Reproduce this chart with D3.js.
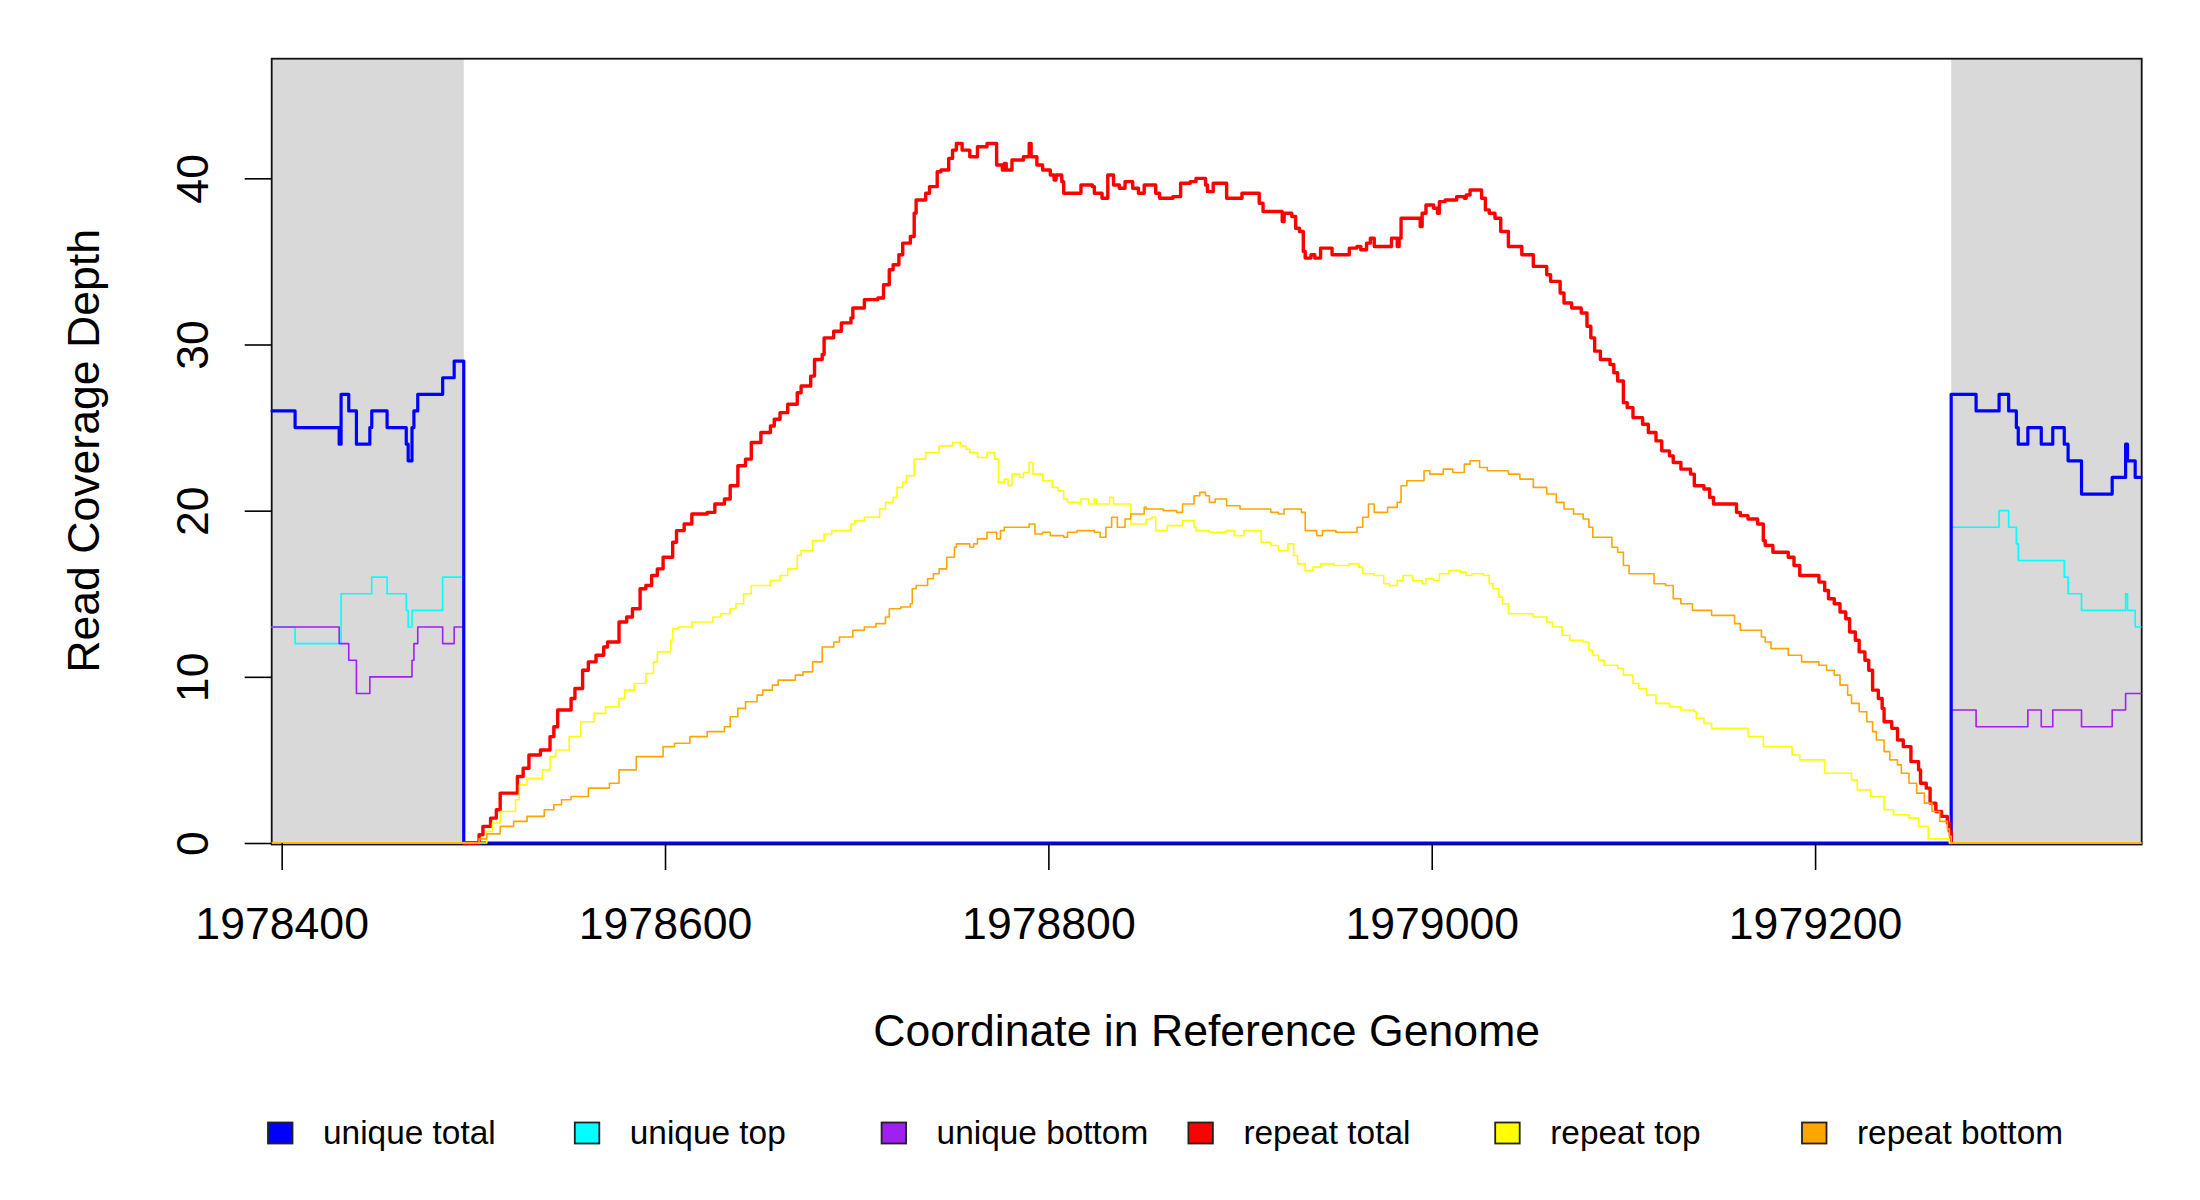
<!DOCTYPE html>
<html><head><meta charset="utf-8">
<script src="https://cdn.jsdelivr.net/npm/d3@7"></script>
<style>body{margin:0;background:#fff} svg{display:block}</style>
</head><body><svg id="chart" width="2200" height="1200"></svg>
<script>
// ---------- data ----------
const xDomain = [1978394.8, 1979370.4];
const yDomain = [0, 47.2];
const xTicks = [1978400, 1978600, 1978800, 1979000, 1979200];
const yTicks = [0, 10, 20, 30, 40];
const maskedRegions = [[1978394.8, 1978495], [1979271, 1979370.4]];
const legendLabels = ["unique total", "unique top", "unique bottom", "repeat total", "repeat top", "repeat bottom"];
const seriesColors = ["#0000ff", "#00ffff", "#a020f0", "#ff0000", "#ffff00", "#ffa500"];

const uniqueTotal = [[1978395,26],[1978407,25],[1978430,24],[1978431,27],[1978435,26],[1978439,24],[1978446,25],[1978447,26],[1978455,25],[1978465,24],[1978466,23],[1978468,25],[1978469,26],[1978471,27],[1978484,28],[1978490,29],[1978495,0],
[1979271,27],[1979284,26],[1979296,27],[1979301,26],[1979305,25],[1979306,24],[1979311,25],[1979318,24],[1979324,25],[1979330,24],[1979332,23],[1979339,21],[1979355,22],[1979362,24],[1979363,23],[1979367,22],[1979370,22]];

const uniqueTop = [[1978395,13],[1978407,12],[1978431,15],[1978447,16],[1978455,15],[1978465,14],[1978466,13],[1978468,14],[1978484,16],[1978495,0],
[1979271,19],[1979296,20],[1979301,19],[1979305,18],[1979306,17],[1979330,16],[1979332,15],[1979339,14],[1979362,15],[1979363,14],[1979367,13],[1979370,13]];

const uniqueBottom = [[1978395,13],[1978430,12],[1978435,11],[1978439,9],[1978446,10],[1978468,11],[1978469,12],[1978471,13],[1978484,12],[1978490,13],[1978495,0],
[1979271,8],[1979284,7],[1979311,8],[1979318,7],[1979324,8],[1979339,7],[1979355,8],[1979362,9],[1979370,9]];

const repeatTotal = [[1978495,0],[1978503,0.5],[1978505,1.0],[1978509,1.5],[1978512,2.0],[1978514,3.0],[1978523,4.0],[1978526,4.5],[1978529,5.3],[1978535,5.6],[1978540,6.4],[1978542,7.0],[1978544,8.0],[1978551,8.7],[1978553,9.3],[1978557,10.4],[1978560,10.9],[1978564,11.3],[1978568,11.8],[1978570,12.1],[1978576,13.3],[1978580,13.6],[1978583,14.1],[1978587,15.3],[1978590,15.5],[1978593,16.1],[1978596,16.5],[1978599,17.2],[1978604,18.1],[1978606,18.8],[1978610,19.2],[1978614,19.8],[1978622,19.9],[1978626,20.4],[1978631,20.7],[1978634,21.5],[1978638,22.7],[1978642,23.1],[1978645,24.1],[1978650,24.7],[1978655,25.1],[1978657,25.5],[1978660,25.9],[1978664,26.4],[1978669,27.1],[1978671,27.5],[1978676,28.1],[1978678,29.1],[1978682,29.4],[1978683,30.4],[1978688,30.8],[1978692,31.3],[1978697,31.6],[1978698,32.2],[1978704,32.7],[1978711,32.8],[1978714,33.6],[1978717,34.5],[1978719,34.8],[1978722,35.4],[1978724,36.1],[1978728,36.5],[1978730,37.9],[1978731,38.7],[1978736,39.1],[1978738,39.5],[1978742,40.4],[1978744,40.5],[1978748,41.2],[1978750,41.7],[1978752,42.1],[1978755,41.7],[1978759,41.3],[1978763,41.9],[1978768,42.1],[1978773,40.8],[1978776,40.5],[1978777,40.9],[1978778,40.5],[1978781,41.1],[1978787,41.3],[1978790,42.1],[1978791,41.3],[1978794,40.8],[1978797,40.5],[1978801,40.2],[1978803,39.9],[1978804,40.2],[1978807,39.8],[1978808,39.1],[1978817,39.6],[1978823,39.5],[1978824,39.1],[1978828,38.8],[1978831,40.2],[1978834,39.6],[1978837,39.4],[1978840,39.8],[1978844,39.4],[1978847,39.1],[1978850,39.6],[1978856,39.1],[1978858,38.8],[1978865,38.9],[1978869,39.7],[1978874,39.8],[1978877,40.0],[1978882,39.6],[1978883,39.2],[1978886,39.7],[1978893,38.8],[1978901,39.1],[1978910,38.5],[1978912,38.0],[1978922,37.4],[1978923,37.9],[1978927,37.7],[1978929,37.0],[1978931,36.8],[1978933,35.6],[1978934,35.2],[1978937,35.4],[1978939,35.2],[1978942,35.8],[1978948,35.4],[1978957,35.8],[1978961,35.9],[1978963,35.7],[1978966,36.1],[1978968,36.4],[1978970,35.9],[1978979,36.4],[1978982,35.9],[1978983,36.4],[1978984,37.6],[1978994,37.1],[1978995,37.9],[1978997,38.4],[1979001,38.2],[1979003,37.9],[1979004,38.6],[1979007,38.7],[1979013,38.9],[1979017,38.8],[1979018,39.0],[1979020,39.3],[1979026,38.8],[1979028,38.1],[1979030,37.9],[1979033,37.6],[1979036,36.8],[1979040,35.9],[1979047,35.4],[1979053,34.7],[1979060,34.2],[1979062,33.8],[1979067,33.1],[1979069,32.5],[1979073,32.2],[1979078,31.9],[1979081,31.1],[1979083,30.4],[1979085,29.6],[1979088,29.1],[1979093,28.8],[1979095,28.3],[1979097,27.8],[1979100,26.5],[1979102,26.2],[1979105,25.6],[1979110,25.2],[1979113,24.7],[1979117,24.2],[1979120,23.6],[1979124,23.3],[1979126,22.9],[1979130,22.5],[1979135,22.2],[1979137,21.5],[1979142,21.3],[1979145,20.8],[1979147,20.4],[1979159,19.9],[1979161,19.7],[1979165,19.5],[1979170,19.2],[1979173,18.2],[1979174,17.9],[1979178,17.5],[1979186,17.2],[1979189,16.7],[1979192,16.1],[1979202,15.7],[1979205,15.2],[1979207,14.7],[1979210,14.4],[1979213,13.9],[1979216,13.5],[1979218,12.7],[1979221,12.2],[1979223,11.5],[1979226,11.0],[1979228,10.4],[1979230,9.2],[1979233,8.7],[1979235,8.1],[1979236,7.3],[1979240,6.9],[1979243,6.2],[1979246,5.8],[1979250,4.9],[1979254,4.4],[1979255,3.6],[1979258,3.3],[1979260,2.4],[1979263,1.9],[1979266,1.6],[1979269,1.2],[1979270,0.7],[1979271,0]];

const repeatTop = [[1978395,0],[1978507,0.7],[1978510,1.2],[1978514,1.9],[1978522,2.6],[1978524,3.5],[1978528,3.9],[1978536,4.4],[1978540,5.2],[1978543,5.6],[1978550,6.4],[1978556,7.3],[1978563,7.8],[1978569,8.2],[1978576,8.7],[1978579,9.2],[1978584,9.6],[1978590,10.2],[1978594,10.9],[1978596,11.5],[1978603,12.2],[1978604,12.9],[1978607,13.0],[1978614,13.3],[1978625,13.6],[1978629,13.8],[1978634,14.1],[1978637,14.4],[1978641,15.0],[1978645,15.5],[1978655,15.8],[1978660,16.1],[1978664,16.5],[1978669,17.3],[1978671,17.6],[1978677,18.2],[1978683,18.6],[1978687,18.8],[1978697,19.2],[1978699,19.4],[1978704,19.6],[1978712,20.1],[1978715,20.5],[1978719,20.8],[1978721,21.4],[1978724,21.7],[1978726,22.1],[1978730,23.1],[1978736,23.5],[1978743,23.9],[1978750,24.1],[1978754,23.9],[1978757,23.7],[1978759,23.5],[1978763,23.2],[1978768,23.5],[1978772,23.1],[1978774,21.7],[1978777,21.9],[1978779,21.5],[1978781,22.2],[1978785,22.0],[1978787,22.3],[1978790,22.9],[1978792,22.2],[1978797,21.8],[1978802,21.4],[1978805,21.2],[1978808,20.7],[1978810,20.5],[1978816,20.4],[1978817,20.7],[1978821,20.4],[1978824,20.7],[1978825,20.4],[1978832,20.8],[1978834,20.4],[1978843,19.2],[1978851,19.5],[1978854,19.6],[1978856,18.8],[1978862,19.1],[1978870,19.4],[1978876,19.0],[1978877,18.8],[1978884,18.7],[1978893,18.8],[1978897,18.5],[1978902,18.8],[1978911,18.1],[1978916,17.9],[1978920,17.6],[1978925,18.0],[1978928,17.3],[1978930,16.8],[1978934,16.4],[1978938,16.6],[1978942,16.8],[1978949,16.7],[1978957,16.8],[1978962,16.6],[1978964,16.2],[1978970,16.1],[1978975,15.6],[1978978,15.5],[1978982,15.8],[1978985,16.1],[1978990,15.8],[1978995,15.6],[1978997,15.9],[1979001,15.8],[1979004,16.2],[1979009,16.4],[1979015,16.3],[1979018,16.1],[1979021,16.2],[1979027,16.1],[1979030,15.6],[1979032,15.3],[1979035,14.8],[1979037,14.4],[1979040,13.8],[1979053,13.6],[1979060,13.3],[1979063,13.0],[1979068,12.5],[1979072,12.2],[1979079,12.1],[1979082,11.6],[1979084,11.3],[1979087,11.0],[1979090,10.7],[1979097,10.5],[1979100,10.1],[1979105,9.6],[1979108,9.3],[1979112,8.9],[1979117,8.4],[1979124,8.2],[1979130,8.0],[1979137,7.9],[1979138,7.5],[1979142,7.2],[1979146,6.9],[1979165,6.4],[1979173,5.8],[1979188,5.3],[1979192,5.0],[1979205,4.2],[1979219,3.8],[1979222,3.2],[1979229,2.8],[1979236,2.0],[1979241,1.7],[1979249,1.5],[1979254,1.0],[1979259,0.25],[1979270,0],[1979370,0]];

const repeatBottom = [[1978395,0],[1978503,0.25],[1978507,0.55],[1978514,1.0],[1978521,1.3],[1978528,1.6],[1978537,2.0],[1978542,2.3],[1978546,2.6],[1978551,2.8],[1978560,3.3],[1978571,3.6],[1978576,4.4],[1978585,5.2],[1978599,5.8],[1978605,6.0],[1978613,6.4],[1978622,6.7],[1978631,7.0],[1978634,7.6],[1978638,8.1],[1978642,8.5],[1978648,8.9],[1978651,9.2],[1978656,9.5],[1978659,9.8],[1978668,10.1],[1978672,10.3],[1978677,10.9],[1978682,11.8],[1978688,12.1],[1978691,12.4],[1978698,12.8],[1978704,13.0],[1978710,13.2],[1978715,13.6],[1978717,14.1],[1978723,14.2],[1978728,14.4],[1978729,15.3],[1978731,15.5],[1978737,15.9],[1978740,16.2],[1978743,16.5],[1978747,17.2],[1978751,17.8],[1978752,18.0],[1978759,17.8],[1978761,18.0],[1978763,18.3],[1978768,18.7],[1978773,18.3],[1978775,18.8],[1978777,19.0],[1978790,19.2],[1978793,18.6],[1978797,18.7],[1978801,18.5],[1978808,18.4],[1978810,18.7],[1978815,18.8],[1978824,18.7],[1978827,18.4],[1978830,19.0],[1978833,19.6],[1978836,19.0],[1978840,19.5],[1978843,19.8],[1978850,20.2],[1978851,20.1],[1978860,20.0],[1978867,19.9],[1978870,20.4],[1978876,20.9],[1978879,21.1],[1978882,20.9],[1978884,20.5],[1978887,20.7],[1978893,20.3],[1978900,20.1],[1978916,19.9],[1978920,19.8],[1978923,20.1],[1978932,19.9],[1978934,18.8],[1978940,18.5],[1978943,18.8],[1978950,18.7],[1978961,19.0],[1978964,19.6],[1978967,20.4],[1978970,19.9],[1978977,20.2],[1978982,20.5],[1978984,21.5],[1978987,21.8],[1978996,22.4],[1978999,22.2],[1979006,22.5],[1979011,22.3],[1979017,22.8],[1979020,23.0],[1979025,22.6],[1979029,22.4],[1979040,22.2],[1979046,21.9],[1979053,21.4],[1979060,21.0],[1979065,20.5],[1979069,20.1],[1979074,19.8],[1979079,19.5],[1979082,19.0],[1979084,18.4],[1979094,17.8],[1979097,17.5],[1979100,16.7],[1979103,16.2],[1979116,15.6],[1979122,15.5],[1979126,14.7],[1979130,14.4],[1979136,14.0],[1979146,13.7],[1979158,13.2],[1979161,12.8],[1979172,12.4],[1979174,12.1],[1979177,11.7],[1979186,11.3],[1979193,10.9],[1979202,10.7],[1979206,10.4],[1979210,10.1],[1979213,9.5],[1979217,8.9],[1979219,8.4],[1979223,7.9],[1979227,7.3],[1979230,6.7],[1979232,6.2],[1979236,5.5],[1979239,5.0],[1979243,4.7],[1979245,4.2],[1979249,3.6],[1979253,3.0],[1979257,2.4],[1979261,1.9],[1979265,1.3],[1979269,0.86],[1979270,0.4],[1979271,0],[1979370,0]];

// ---------- drawing ----------
const FONT = "'Liberation Sans', Arial, Helvetica, sans-serif";
const svg = d3.select("#chart");
const x = d3.scaleLinear().domain(xDomain).range([271.7, 2141.7]);
const y = d3.scaleLinear().domain(yDomain).range([843, 58.7]);

svg.append("rect").attr("width", 2200).attr("height", 1200).attr("fill", "#fff");

// masked (gray) regions
svg.selectAll("rect.mask").data(maskedRegions).join("rect")
  .attr("class", "mask")
  .attr("x", d => x(d[0])).attr("width", d => x(d[1]) - x(d[0]))
  .attr("y", y(yDomain[1])).attr("height", y(yDomain[0]) - y(yDomain[1]))
  .attr("fill", "#d9d9d9");

// box
svg.append("rect")
  .attr("x", x(xDomain[0])).attr("y", y(yDomain[1]))
  .attr("width", x(xDomain[1]) - x(xDomain[0])).attr("height", y(yDomain[0]) - y(yDomain[1]) + 1.5)
  .attr("fill", "none").attr("stroke", "#111").attr("stroke-width", 1.8);

// series (drawing order: unique top, unique bottom, unique total, then repeat series)
const seriesData = [uniqueTotal, uniqueTop, uniqueBottom, repeatTotal, repeatTop, repeatBottom];
const seriesWidths = [3.2, 1.6, 1.6, 3.4, 1.6, 1.6];
const drawOrder = [1, 2, 0, 3, 4, 5];
const line = d3.line().x(d => x(d[0])).y(d => y(d[1])).curve(d3.curveStepAfter);
drawOrder.forEach(i => {
  svg.append("path").datum(seriesData[i]).attr("d", line)
    .attr("fill", "none").attr("stroke", seriesColors[i])
    .attr("stroke-width", seriesWidths[i])
    .attr("stroke-linejoin", "round").attr("stroke-linecap", "round");
});

// x axis
const gx = svg.append("g").attr("transform", `translate(0,${y(0)})`)
  .call(d3.axisBottom(x).tickValues(xTicks).tickSize(27).tickFormat(d3.format("d")));
gx.select(".domain").remove();
gx.selectAll(".tick line").attr("stroke", "#000").attr("stroke-width", 1.6);
gx.selectAll(".tick text").attr("y", 96).attr("dy", 0)
  .attr("font-family", FONT).attr("font-size", 44.6).attr("fill", "#000");

// y axis
const gy = svg.append("g").attr("transform", `translate(${x(xDomain[0])},0)`)
  .call(d3.axisLeft(y).tickValues(yTicks).tickSize(27));
gy.select(".domain").remove();
gy.selectAll(".tick line").attr("stroke", "#000").attr("stroke-width", 1.6);
gy.selectAll(".tick text").attr("x", 0).attr("y", 0).attr("dy", 0)
  .attr("text-anchor", "middle")
  .attr("transform", `translate(${208 - x(xDomain[0])},0) rotate(-90)`)
  .attr("font-family", FONT).attr("font-size", 44.6).attr("fill", "#000");

// axis titles
svg.append("text").attr("x", (x.range()[0] + x.range()[1]) / 2).attr("y", 1046)
  .attr("text-anchor", "middle").attr("font-family", FONT).attr("font-size", 44.6)
  .text("Coordinate in Reference Genome");
svg.append("text")
  .attr("transform", `translate(99,${(y.range()[0] + y.range()[1]) / 2}) rotate(-90)`)
  .attr("text-anchor", "middle").attr("font-family", FONT).attr("font-size", 44.6)
  .text("Read Coverage Depth");

// legend
const lg = svg.append("g");
legendLabels.forEach((lab, i) => {
  const bx = 268 + i * 306.8;
  lg.append("rect").attr("x", bx).attr("y", 1122.5).attr("width", 24.5).attr("height", 21)
    .attr("fill", seriesColors[i]).attr("stroke", "#222").attr("stroke-width", 1.8);
  lg.append("text").attr("x", bx + 55).attr("y", 1144)
    .attr("font-family", FONT).attr("font-size", 33.4).attr("fill", "#000").text(lab);
});
</script>
</body></html>
